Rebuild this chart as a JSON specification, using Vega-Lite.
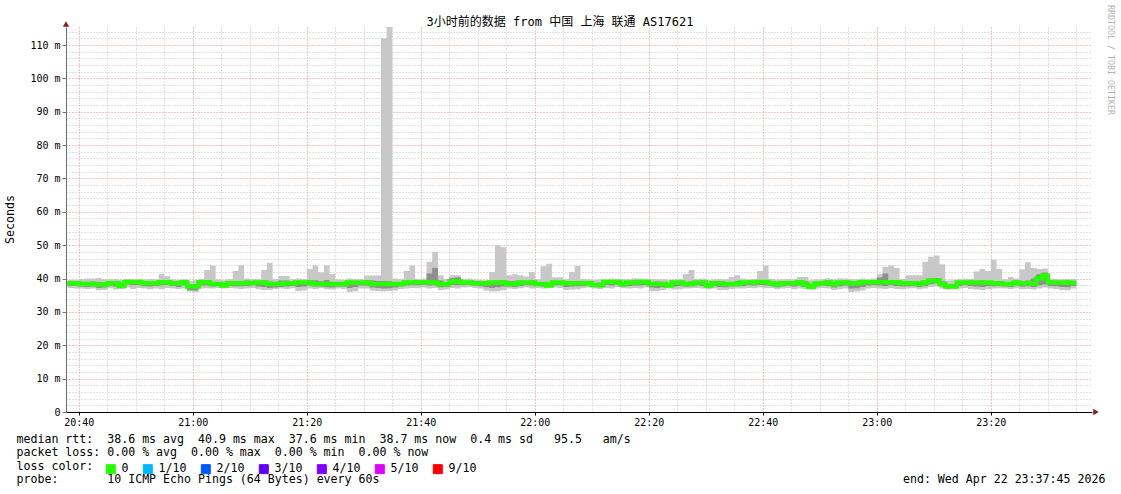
{
  "$schema": "https://vega.github.io/schema/vega-lite/v6.json",
  "width": 1026,
  "height": 385,
  "autosize": {"type": "none"},
  "padding": {"left": 66, "top": 27, "right": 29, "bottom": 82},
  "background": "white",
  "config": {"view": {"stroke": null}},
  "title": {
    "text": "3小时前的数据 from 中国 上海 联通 AS17621",
    "font": "DejaVu Sans Mono, Noto Sans CJK SC",
    "fontSize": 12,
    "fontWeight": "normal",
    "color": "black",
    "anchor": "middle",
    "frame": "group",
    "dx": -19,
    "dy": 24,
    "offset": 0
  },
  "data": {
    "format": {"parse": {"t": "utc:'%H:%M'"}},
    "values": [
      {"t":"20:38","lo":37.2,"q1":37.8,"med":38.6,"q3":39.1,"hi":39.6,"loss":"0"},
      {"t":"20:39","lo":37.0,"q1":37.8,"med":38.6,"q3":39.2,"hi":39.6,"loss":"0"},
      {"t":"20:40","lo":37.0,"q1":37.6,"med":38.4,"q3":39.0,"hi":39.9,"loss":"0"},
      {"t":"20:41","lo":36.9,"q1":37.5,"med":38.4,"q3":39.0,"hi":40.0,"loss":"0"},
      {"t":"20:42","lo":37.0,"q1":37.6,"med":38.4,"q3":39.1,"hi":40.0,"loss":"0"},
      {"t":"20:43","lo":36.5,"q1":37.2,"med":38.2,"q3":38.9,"hi":40.2,"loss":"0"},
      {"t":"20:44","lo":36.6,"q1":37.3,"med":38.2,"q3":38.8,"hi":39.8,"loss":"0"},
      {"t":"20:45","lo":37.1,"q1":37.8,"med":38.6,"q3":39.2,"hi":39.8,"loss":"0"},
      {"t":"20:46","lo":36.7,"q1":37.6,"med":38.6,"q3":39.3,"hi":39.9,"loss":"0"},
      {"t":"20:47","lo":36.9,"q1":37.3,"med":37.8,"q3":38.5,"hi":39.6,"loss":"0"},
      {"t":"20:48","lo":37.3,"q1":38.2,"med":39.0,"q3":39.5,"hi":39.9,"loss":"0"},
      {"t":"20:49","lo":36.9,"q1":38.0,"med":39.0,"q3":39.4,"hi":39.7,"loss":"0"},
      {"t":"20:50","lo":37.2,"q1":38.1,"med":39.0,"q3":39.4,"hi":39.8,"loss":"0"},
      {"t":"20:51","lo":37.0,"q1":37.7,"med":38.6,"q3":39.1,"hi":39.7,"loss":"0"},
      {"t":"20:52","lo":36.8,"q1":37.6,"med":38.6,"q3":39.2,"hi":39.9,"loss":"0"},
      {"t":"20:53","lo":37.0,"q1":37.8,"med":38.6,"q3":39.3,"hi":39.8,"loss":"0"},
      {"t":"20:54","lo":36.8,"q1":38.0,"med":38.9,"q3":39.6,"hi":41.4,"loss":"0"},
      {"t":"20:55","lo":37.2,"q1":38.1,"med":38.9,"q3":39.5,"hi":40.8,"loss":"0"},
      {"t":"20:56","lo":37.0,"q1":37.8,"med":38.6,"q3":39.1,"hi":39.8,"loss":"0"},
      {"t":"20:57","lo":36.9,"q1":37.5,"med":38.6,"q3":39.0,"hi":39.6,"loss":"0"},
      {"t":"20:58","lo":37.1,"q1":38.0,"med":38.9,"q3":39.3,"hi":39.8,"loss":"0"},
      {"t":"20:59","lo":36.1,"q1":36.5,"med":37.6,"q3":38.3,"hi":39.3,"loss":"0"},
      {"t":"21:00","lo":36.0,"q1":36.4,"med":37.6,"q3":38.4,"hi":39.5,"loss":"0"},
      {"t":"21:01","lo":37.0,"q1":37.9,"med":38.9,"q3":39.4,"hi":39.9,"loss":"0"},
      {"t":"21:02","lo":37.1,"q1":38.0,"med":38.9,"q3":39.5,"hi":42.6,"loss":"0"},
      {"t":"21:03","lo":37.0,"q1":37.6,"med":38.4,"q3":39.0,"hi":43.9,"loss":"0"},
      {"t":"21:04","lo":37.2,"q1":37.8,"med":38.4,"q3":38.9,"hi":39.7,"loss":"0"},
      {"t":"21:05","lo":37.0,"q1":37.4,"med":37.9,"q3":38.7,"hi":39.5,"loss":"0"},
      {"t":"21:06","lo":37.2,"q1":37.8,"med":38.6,"q3":39.1,"hi":39.8,"loss":"0"},
      {"t":"21:07","lo":37.0,"q1":37.7,"med":38.6,"q3":39.3,"hi":42.3,"loss":"0"},
      {"t":"21:08","lo":36.9,"q1":37.7,"med":38.6,"q3":39.2,"hi":44.0,"loss":"0"},
      {"t":"21:09","lo":37.0,"q1":37.8,"med":38.7,"q3":39.4,"hi":40.0,"loss":"0"},
      {"t":"21:10","lo":37.2,"q1":38.0,"med":38.7,"q3":39.2,"hi":39.9,"loss":"0"},
      {"t":"21:11","lo":36.8,"q1":37.6,"med":38.8,"q3":39.3,"hi":39.8,"loss":"0"},
      {"t":"21:12","lo":36.6,"q1":37.5,"med":38.8,"q3":39.4,"hi":42.6,"loss":"0"},
      {"t":"21:13","lo":36.6,"q1":37.2,"med":38.4,"q3":39.1,"hi":44.7,"loss":"0"},
      {"t":"21:14","lo":36.9,"q1":37.3,"med":38.4,"q3":39.0,"hi":39.9,"loss":"0"},
      {"t":"21:15","lo":37.0,"q1":37.5,"med":38.4,"q3":39.4,"hi":40.8,"loss":"0"},
      {"t":"21:16","lo":36.9,"q1":37.6,"med":38.6,"q3":39.4,"hi":40.8,"loss":"0"},
      {"t":"21:17","lo":37.1,"q1":37.8,"med":38.6,"q3":39.1,"hi":39.8,"loss":"0"},
      {"t":"21:18","lo":36.3,"q1":37.5,"med":38.8,"q3":39.3,"hi":40.0,"loss":"0"},
      {"t":"21:19","lo":36.4,"q1":37.6,"med":38.8,"q3":39.2,"hi":39.9,"loss":"0"},
      {"t":"21:20","lo":37.0,"q1":37.9,"med":38.8,"q3":39.6,"hi":42.9,"loss":"0"},
      {"t":"21:21","lo":36.9,"q1":37.6,"med":38.4,"q3":39.5,"hi":43.9,"loss":"0"},
      {"t":"21:22","lo":37.1,"q1":37.6,"med":38.4,"q3":39.2,"hi":41.9,"loss":"0"},
      {"t":"21:23","lo":36.8,"q1":37.4,"med":38.4,"q3":39.6,"hi":44.0,"loss":"0"},
      {"t":"21:24","lo":36.7,"q1":37.3,"med":38.4,"q3":39.0,"hi":41.4,"loss":"0"},
      {"t":"21:25","lo":37.0,"q1":37.6,"med":38.4,"q3":38.9,"hi":39.7,"loss":"0"},
      {"t":"21:26","lo":36.9,"q1":37.6,"med":38.4,"q3":39.0,"hi":39.6,"loss":"0"},
      {"t":"21:27","lo":36.0,"q1":37.2,"med":38.8,"q3":39.3,"hi":40.0,"loss":"0"},
      {"t":"21:28","lo":36.2,"q1":37.5,"med":38.8,"q3":39.2,"hi":39.9,"loss":"0"},
      {"t":"21:29","lo":37.0,"q1":37.9,"med":38.8,"q3":39.3,"hi":39.9,"loss":"0"},
      {"t":"21:30","lo":37.0,"q1":37.9,"med":38.8,"q3":39.5,"hi":40.9,"loss":"0"},
      {"t":"21:31","lo":36.4,"q1":37.3,"med":38.4,"q3":39.4,"hi":40.9,"loss":"0"},
      {"t":"21:32","lo":36.3,"q1":37.2,"med":38.4,"q3":39.3,"hi":40.9,"loss":"0"},
      {"t":"21:33","lo":36.2,"q1":37.0,"med":38.4,"q3":39.3,"hi":112.0,"loss":"0"},
      {"t":"21:34","lo":36.3,"q1":37.1,"med":38.4,"q3":39.2,"hi":115.4,"loss":"0"},
      {"t":"21:35","lo":36.4,"q1":37.3,"med":38.4,"q3":39.0,"hi":40.0,"loss":"0"},
      {"t":"21:36","lo":36.9,"q1":37.6,"med":38.4,"q3":39.0,"hi":39.8,"loss":"0"},
      {"t":"21:37","lo":37.0,"q1":37.9,"med":38.8,"q3":39.4,"hi":42.3,"loss":"0"},
      {"t":"21:38","lo":37.2,"q1":38.0,"med":38.8,"q3":39.3,"hi":43.9,"loss":"0"},
      {"t":"21:39","lo":37.1,"q1":38.0,"med":38.9,"q3":39.4,"hi":39.9,"loss":"0"},
      {"t":"21:40","lo":37.3,"q1":38.1,"med":38.9,"q3":39.5,"hi":40.0,"loss":"0"},
      {"t":"21:41","lo":37.0,"q1":37.9,"med":38.8,"q3":41.5,"hi":45.0,"loss":"0"},
      {"t":"21:42","lo":37.2,"q1":38.0,"med":38.8,"q3":43.2,"hi":48.0,"loss":"0"},
      {"t":"21:43","lo":36.6,"q1":37.4,"med":38.3,"q3":39.4,"hi":41.0,"loss":"0"},
      {"t":"21:44","lo":36.7,"q1":37.5,"med":38.3,"q3":39.0,"hi":39.9,"loss":"0"},
      {"t":"21:45","lo":37.2,"q1":38.1,"med":39.1,"q3":40.2,"hi":41.0,"loss":"0"},
      {"t":"21:46","lo":37.0,"q1":38.0,"med":39.1,"q3":40.4,"hi":41.0,"loss":"0"},
      {"t":"21:47","lo":37.3,"q1":38.0,"med":38.8,"q3":39.3,"hi":39.9,"loss":"0"},
      {"t":"21:48","lo":37.4,"q1":38.1,"med":38.8,"q3":39.3,"hi":40.0,"loss":"0"},
      {"t":"21:49","lo":37.2,"q1":37.9,"med":38.6,"q3":39.1,"hi":39.7,"loss":"0"},
      {"t":"21:50","lo":37.0,"q1":37.7,"med":38.6,"q3":39.0,"hi":39.6,"loss":"0"},
      {"t":"21:51","lo":36.4,"q1":37.4,"med":38.6,"q3":39.1,"hi":39.5,"loss":"0"},
      {"t":"21:52","lo":36.1,"q1":37.2,"med":38.8,"q3":39.3,"hi":42.0,"loss":"0"},
      {"t":"21:53","lo":36.2,"q1":37.4,"med":38.8,"q3":39.4,"hi":50.0,"loss":"0"},
      {"t":"21:54","lo":36.5,"q1":37.6,"med":38.8,"q3":39.4,"hi":49.4,"loss":"0"},
      {"t":"21:55","lo":37.0,"q1":37.6,"med":38.4,"q3":39.2,"hi":41.0,"loss":"0"},
      {"t":"21:56","lo":36.9,"q1":37.5,"med":38.4,"q3":39.3,"hi":41.3,"loss":"0"},
      {"t":"21:57","lo":37.1,"q1":37.8,"med":38.8,"q3":39.4,"hi":41.0,"loss":"0"},
      {"t":"21:58","lo":37.3,"q1":38.0,"med":38.8,"q3":39.3,"hi":40.6,"loss":"0"},
      {"t":"21:59","lo":37.0,"q1":37.9,"med":38.8,"q3":39.5,"hi":42.0,"loss":"0"},
      {"t":"22:00","lo":37.2,"q1":37.8,"med":38.4,"q3":39.0,"hi":39.8,"loss":"0"},
      {"t":"22:01","lo":37.0,"q1":37.6,"med":38.4,"q3":39.0,"hi":43.7,"loss":"0"},
      {"t":"22:02","lo":37.1,"q1":37.5,"med":37.9,"q3":38.8,"hi":44.4,"loss":"0"},
      {"t":"22:03","lo":37.3,"q1":38.0,"med":38.8,"q3":39.3,"hi":40.4,"loss":"0"},
      {"t":"22:04","lo":37.2,"q1":38.0,"med":38.8,"q3":39.2,"hi":40.4,"loss":"0"},
      {"t":"22:05","lo":36.6,"q1":37.5,"med":38.6,"q3":39.1,"hi":39.8,"loss":"0"},
      {"t":"22:06","lo":36.7,"q1":37.6,"med":38.6,"q3":39.3,"hi":42.0,"loss":"0"},
      {"t":"22:07","lo":36.8,"q1":37.7,"med":38.6,"q3":39.2,"hi":43.8,"loss":"0"},
      {"t":"22:08","lo":37.1,"q1":37.8,"med":38.6,"q3":39.1,"hi":39.9,"loss":"0"},
      {"t":"22:09","lo":37.3,"q1":38.0,"med":38.6,"q3":39.0,"hi":39.8,"loss":"0"},
      {"t":"22:10","lo":37.0,"q1":37.5,"med":38.1,"q3":38.7,"hi":39.6,"loss":"0"},
      {"t":"22:11","lo":36.9,"q1":37.4,"med":38.1,"q3":38.8,"hi":39.7,"loss":"0"},
      {"t":"22:12","lo":37.2,"q1":38.1,"med":39.0,"q3":39.5,"hi":39.9,"loss":"0"},
      {"t":"22:13","lo":37.0,"q1":37.9,"med":39.0,"q3":39.6,"hi":40.0,"loss":"0"},
      {"t":"22:14","lo":37.4,"q1":38.2,"med":39.0,"q3":39.5,"hi":39.9,"loss":"0"},
      {"t":"22:15","lo":37.1,"q1":37.6,"med":38.3,"q3":38.9,"hi":39.8,"loss":"0"},
      {"t":"22:16","lo":37.0,"q1":37.8,"med":38.8,"q3":39.3,"hi":39.9,"loss":"0"},
      {"t":"22:17","lo":37.2,"q1":37.9,"med":38.8,"q3":39.4,"hi":40.1,"loss":"0"},
      {"t":"22:18","lo":37.0,"q1":37.9,"med":39.0,"q3":39.5,"hi":40.0,"loss":"0"},
      {"t":"22:19","lo":37.3,"q1":38.1,"med":39.0,"q3":39.4,"hi":39.9,"loss":"0"},
      {"t":"22:20","lo":36.2,"q1":37.3,"med":38.4,"q3":39.0,"hi":39.9,"loss":"0"},
      {"t":"22:21","lo":36.3,"q1":37.2,"med":38.4,"q3":39.1,"hi":39.8,"loss":"0"},
      {"t":"22:22","lo":36.6,"q1":37.4,"med":38.4,"q3":39.0,"hi":39.9,"loss":"0"},
      {"t":"22:23","lo":37.0,"q1":37.4,"med":37.9,"q3":38.6,"hi":39.6,"loss":"0"},
      {"t":"22:24","lo":36.7,"q1":37.6,"med":38.8,"q3":39.3,"hi":39.8,"loss":"0"},
      {"t":"22:25","lo":36.8,"q1":37.8,"med":38.8,"q3":39.3,"hi":39.9,"loss":"0"},
      {"t":"22:26","lo":37.0,"q1":37.6,"med":38.4,"q3":39.0,"hi":41.4,"loss":"0"},
      {"t":"22:27","lo":37.1,"q1":37.7,"med":38.4,"q3":39.1,"hi":42.6,"loss":"0"},
      {"t":"22:28","lo":37.2,"q1":38.0,"med":38.8,"q3":39.3,"hi":39.9,"loss":"0"},
      {"t":"22:29","lo":37.0,"q1":37.8,"med":38.8,"q3":39.4,"hi":40.0,"loss":"0"},
      {"t":"22:30","lo":36.8,"q1":37.3,"med":37.9,"q3":38.6,"hi":39.6,"loss":"0"},
      {"t":"22:31","lo":37.0,"q1":37.7,"med":38.6,"q3":39.1,"hi":39.8,"loss":"0"},
      {"t":"22:32","lo":36.6,"q1":37.5,"med":38.6,"q3":39.1,"hi":39.9,"loss":"0"},
      {"t":"22:33","lo":36.6,"q1":37.4,"med":38.4,"q3":39.0,"hi":39.8,"loss":"0"},
      {"t":"22:34","lo":36.9,"q1":37.6,"med":38.4,"q3":39.0,"hi":40.5,"loss":"0"},
      {"t":"22:35","lo":37.0,"q1":37.7,"med":38.4,"q3":39.2,"hi":41.0,"loss":"0"},
      {"t":"22:36","lo":37.0,"q1":37.8,"med":38.8,"q3":39.3,"hi":40.0,"loss":"0"},
      {"t":"22:37","lo":37.2,"q1":38.0,"med":38.8,"q3":39.2,"hi":39.8,"loss":"0"},
      {"t":"22:38","lo":37.1,"q1":37.9,"med":38.8,"q3":39.3,"hi":39.9,"loss":"0"},
      {"t":"22:39","lo":37.3,"q1":38.1,"med":39.0,"q3":39.5,"hi":42.3,"loss":"0"},
      {"t":"22:40","lo":37.1,"q1":38.0,"med":39.0,"q3":39.6,"hi":43.9,"loss":"0"},
      {"t":"22:41","lo":37.2,"q1":37.8,"med":38.6,"q3":39.1,"hi":39.9,"loss":"0"},
      {"t":"22:42","lo":36.8,"q1":37.4,"med":38.2,"q3":38.9,"hi":39.7,"loss":"0"},
      {"t":"22:43","lo":37.0,"q1":37.7,"med":38.6,"q3":39.1,"hi":39.8,"loss":"0"},
      {"t":"22:44","lo":37.2,"q1":37.9,"med":38.6,"q3":39.1,"hi":39.9,"loss":"0"},
      {"t":"22:45","lo":36.8,"q1":37.6,"med":38.6,"q3":39.2,"hi":39.9,"loss":"0"},
      {"t":"22:46","lo":37.0,"q1":37.9,"med":38.9,"q3":39.5,"hi":40.5,"loss":"0"},
      {"t":"22:47","lo":36.9,"q1":37.5,"med":38.2,"q3":39.2,"hi":40.5,"loss":"0"},
      {"t":"22:48","lo":36.8,"q1":37.1,"med":37.5,"q3":38.3,"hi":39.5,"loss":"0"},
      {"t":"22:49","lo":37.0,"q1":37.7,"med":38.5,"q3":39.0,"hi":39.7,"loss":"0"},
      {"t":"22:50","lo":37.2,"q1":37.9,"med":38.5,"q3":39.1,"hi":39.9,"loss":"0"},
      {"t":"22:51","lo":37.0,"q1":37.8,"med":38.8,"q3":39.4,"hi":40.1,"loss":"0"},
      {"t":"22:52","lo":36.6,"q1":37.3,"med":38.3,"q3":39.0,"hi":39.8,"loss":"0"},
      {"t":"22:53","lo":36.8,"q1":37.7,"med":38.8,"q3":39.3,"hi":40.1,"loss":"0"},
      {"t":"22:54","lo":37.0,"q1":37.9,"med":38.8,"q3":39.4,"hi":40.0,"loss":"0"},
      {"t":"22:55","lo":36.0,"q1":37.0,"med":38.6,"q3":39.2,"hi":39.9,"loss":"0"},
      {"t":"22:56","lo":36.1,"q1":37.1,"med":38.6,"q3":39.1,"hi":39.8,"loss":"0"},
      {"t":"22:57","lo":36.4,"q1":37.5,"med":38.9,"q3":39.4,"hi":40.0,"loss":"0"},
      {"t":"22:58","lo":37.0,"q1":37.9,"med":38.9,"q3":39.4,"hi":39.9,"loss":"0"},
      {"t":"22:59","lo":37.2,"q1":38.0,"med":38.9,"q3":39.5,"hi":40.0,"loss":"0"},
      {"t":"23:00","lo":37.0,"q1":37.9,"med":38.9,"q3":40.3,"hi":41.4,"loss":"0"},
      {"t":"23:01","lo":36.9,"q1":37.8,"med":38.9,"q3":41.5,"hi":43.5,"loss":"0"},
      {"t":"23:02","lo":37.1,"q1":38.0,"med":38.9,"q3":39.6,"hi":43.9,"loss":"0"},
      {"t":"23:03","lo":36.9,"q1":37.8,"med":38.9,"q3":39.5,"hi":43.2,"loss":"0"},
      {"t":"23:04","lo":36.8,"q1":37.6,"med":38.6,"q3":39.2,"hi":39.9,"loss":"0"},
      {"t":"23:05","lo":37.0,"q1":37.7,"med":38.6,"q3":39.3,"hi":41.0,"loss":"0"},
      {"t":"23:06","lo":37.1,"q1":37.8,"med":38.6,"q3":39.2,"hi":41.0,"loss":"0"},
      {"t":"23:07","lo":36.8,"q1":37.5,"med":38.4,"q3":39.0,"hi":41.0,"loss":"0"},
      {"t":"23:08","lo":37.0,"q1":37.8,"med":38.8,"q3":39.4,"hi":45.0,"loss":"0"},
      {"t":"23:09","lo":37.5,"q1":38.4,"med":39.4,"q3":40.0,"hi":46.5,"loss":"0"},
      {"t":"23:10","lo":37.6,"q1":38.5,"med":39.4,"q3":40.2,"hi":46.9,"loss":"0"},
      {"t":"23:11","lo":37.0,"q1":37.6,"med":38.4,"q3":39.2,"hi":44.3,"loss":"0"},
      {"t":"23:12","lo":36.7,"q1":37.0,"med":37.6,"q3":38.3,"hi":39.4,"loss":"0"},
      {"t":"23:13","lo":36.8,"q1":37.1,"med":37.6,"q3":38.4,"hi":39.5,"loss":"0"},
      {"t":"23:14","lo":37.0,"q1":37.8,"med":38.8,"q3":39.3,"hi":39.9,"loss":"0"},
      {"t":"23:15","lo":37.2,"q1":38.0,"med":38.8,"q3":39.3,"hi":40.0,"loss":"0"},
      {"t":"23:16","lo":36.9,"q1":37.8,"med":38.8,"q3":39.4,"hi":39.9,"loss":"0"},
      {"t":"23:17","lo":36.7,"q1":37.6,"med":38.8,"q3":39.3,"hi":42.1,"loss":"0"},
      {"t":"23:18","lo":36.6,"q1":37.5,"med":38.8,"q3":39.4,"hi":42.9,"loss":"0"},
      {"t":"23:19","lo":36.9,"q1":37.7,"med":38.8,"q3":39.3,"hi":42.3,"loss":"0"},
      {"t":"23:20","lo":37.0,"q1":37.7,"med":38.6,"q3":39.2,"hi":45.6,"loss":"0"},
      {"t":"23:21","lo":37.1,"q1":37.8,"med":38.6,"q3":39.1,"hi":42.9,"loss":"0"},
      {"t":"23:22","lo":37.0,"q1":37.6,"med":38.4,"q3":39.0,"hi":39.8,"loss":"0"},
      {"t":"23:23","lo":36.9,"q1":37.5,"med":38.4,"q3":39.0,"hi":40.5,"loss":"0"},
      {"t":"23:24","lo":37.1,"q1":37.9,"med":38.8,"q3":39.4,"hi":40.0,"loss":"0"},
      {"t":"23:25","lo":36.8,"q1":37.6,"med":38.6,"q3":39.3,"hi":42.8,"loss":"0"},
      {"t":"23:26","lo":36.9,"q1":37.7,"med":38.6,"q3":39.4,"hi":44.9,"loss":"0"},
      {"t":"23:27","lo":36.7,"q1":37.5,"med":38.5,"q3":40.0,"hi":43.2,"loss":"0"},
      {"t":"23:28","lo":37.0,"q1":38.0,"med":40.1,"q3":41.3,"hi":42.9,"loss":"0"},
      {"t":"23:29","lo":37.3,"q1":38.2,"med":40.9,"q3":41.8,"hi":43.0,"loss":"0"},
      {"t":"23:30","lo":37.0,"q1":37.8,"med":38.8,"q3":39.4,"hi":40.0,"loss":"0"},
      {"t":"23:31","lo":36.9,"q1":37.7,"med":38.8,"q3":39.3,"hi":39.9,"loss":"0"},
      {"t":"23:32","lo":36.6,"q1":37.5,"med":38.8,"q3":39.3,"hi":39.8,"loss":"0"},
      {"t":"23:33","lo":36.5,"q1":37.4,"med":38.8,"q3":39.4,"hi":39.9,"loss":"0"},
      {"t":"23:34","lo":37.0,"q1":37.8,"med":38.7,"q3":39.3,"hi":39.9,"loss":"0"},
      {"t":"23:35","lo":37.0,"q1":37.8,"med":38.7,"q3":39.3,"hi":39.9,"loss":"0"}
    ]
  },
  "encoding": {
    "x": {
      "field": "t", "type": "temporal",
      "scale": {"type": "utc", "domain": [{"year": 1900, "month": 1, "date": 1, "hours": 20, "minutes": 37, "seconds": 45, "utc": true}, {"year": 1900, "month": 1, "date": 1, "hours": 23, "minutes": 37, "seconds": 45, "utc": true}]},
      "axis": {
        "tickCount": 36,
        "labelExpr": "utcminutes(datum.value) % 20 === 0 ? utcFormat(datum.value, '%H:%M') : ''",
        "labelOverlap": false, "labelFlush": false,
        "grid": true, "gridDash": [1, 2], "gridWidth": 1,
        "gridColor": {"condition": {"test": "utcminutes(datum.value) % 20 === 0", "value": "#f08a8a"}, "value": "#c4c4c4"},
        "ticks": true, "tickSize": 3, "tickColor": "black",
        "tickOpacity": {"condition": {"test": "utcminutes(datum.value) % 20 === 0", "value": 1}, "value": 0},
        "domain": true, "domainColor": "black", "domainWidth": 1,
        "labelFont": "DejaVu Sans Mono", "labelFontSize": 10, "labelColor": "black", "labelPadding": 2,
        "title": ["median rtt:\u00a0\u00a038.6 ms avg\u00a0\u00a040.9 ms max\u00a0\u00a037.6 ms min\u00a0\u00a038.7 ms now\u00a0\u00a00.4 ms sd\u00a0\u00a0\u00a095.5\u00a0\u00a0\u00a0am/s", "packet loss: 0.00 % avg\u00a0\u00a00.00 % max\u00a0\u00a00.00 % min\u00a0\u00a00.00 % now", "loss color:", "probe:\u00a0\u00a0\u00a0\u00a0\u00a0\u00a0\u00a010 ICMP Echo Pings (64 Bytes) every 60s\u00a0\u00a0\u00a0\u00a0\u00a0\u00a0\u00a0\u00a0\u00a0\u00a0\u00a0\u00a0\u00a0\u00a0\u00a0\u00a0\u00a0\u00a0\u00a0\u00a0\u00a0\u00a0\u00a0\u00a0\u00a0\u00a0\u00a0\u00a0\u00a0\u00a0\u00a0\u00a0\u00a0\u00a0\u00a0\u00a0\u00a0\u00a0\u00a0\u00a0\u00a0\u00a0\u00a0\u00a0\u00a0\u00a0\u00a0\u00a0\u00a0\u00a0\u00a0\u00a0\u00a0\u00a0\u00a0\u00a0\u00a0\u00a0\u00a0\u00a0\u00a0\u00a0\u00a0\u00a0\u00a0\u00a0\u00a0\u00a0\u00a0\u00a0\u00a0\u00a0\u00a0\u00a0\u00a0end: Wed Apr 22 23:37:45 2026"],
        "titleX": -50, "titleY": 21, "titleAlign": "left", "titleBaseline": "top",
        "titleFont": "DejaVu Sans Mono", "titleFontSize": 11.6, "titleFontWeight": "normal", "titleColor": "black"
      }
    }
  },
  "layer": [
    {
      "mark": {"type": "area", "interpolate": "step-after", "color": "#c8c8c8"},
      "encoding": {
        "y": {
          "field": "lo", "type": "quantitative",
          "scale": {"domain": [0, 115.4], "nice": false},
          "axis": {
            "values": [0,2,4,6,8,10,12,14,16,18,20,22,24,26,28,30,32,34,36,38,40,42,44,46,48,50,52,54,56,58,60,62,64,66,68,70,72,74,76,78,80,82,84,86,88,90,92,94,96,98,100,102,104,106,108,110,112,114],
            "labelExpr": "datum.value % 10 !== 0 ? '' : (datum.value === 0 ? '0' : datum.value + ' m')",
            "labelOverlap": false, "labelFlush": false,
            "grid": true, "gridDash": [1, 2], "gridWidth": 1,
            "gridColor": {"condition": {"test": "datum.value % 10 === 0", "value": "#f08a8a"}, "value": "#c4c4c4"},
            "ticks": true, "tickSize": 4, "tickColor": "#b06060",
            "tickOpacity": {"condition": {"test": "datum.value % 10 === 0", "value": 1}, "value": 0},
            "domain": true, "domainColor": "#6e6e6e", "domainWidth": 1,
            "labelFont": "DejaVu Sans Mono", "labelFontSize": 10, "labelColor": "black", "labelPadding": 2,
            "title": "Seconds", "titleX": -56, "titleY": 192, "titleAngle": -90, "titleAlign": "center", "titleBaseline": "middle",
            "titleFont": "DejaVu Sans Mono", "titleFontSize": 11.6, "titleFontWeight": "normal", "titleColor": "black"
          }
        },
        "y2": {"field": "hi"}
      }
    },
    {
      "mark": {"type": "area", "interpolate": "step-after", "color": "#8e8e8e"},
      "encoding": {
        "y": {
          "field": "q1", "type": "quantitative",
          "scale": {"domain": [0, 115.4], "nice": false},
          "axis": {
            "values": [0,2,4,6,8,10,12,14,16,18,20,22,24,26,28,30,32,34,36,38,40,42,44,46,48,50,52,54,56,58,60,62,64,66,68,70,72,74,76,78,80,82,84,86,88,90,92,94,96,98,100,102,104,106,108,110,112,114],
            "labelExpr": "datum.value % 10 !== 0 ? '' : (datum.value === 0 ? '0' : datum.value + ' m')",
            "labelOverlap": false, "labelFlush": false,
            "grid": true, "gridDash": [1, 2], "gridWidth": 1,
            "gridColor": {"condition": {"test": "datum.value % 10 === 0", "value": "#f08a8a"}, "value": "#c4c4c4"},
            "ticks": true, "tickSize": 4, "tickColor": "#b06060",
            "tickOpacity": {"condition": {"test": "datum.value % 10 === 0", "value": 1}, "value": 0},
            "domain": true, "domainColor": "#6e6e6e", "domainWidth": 1,
            "labelFont": "DejaVu Sans Mono", "labelFontSize": 10, "labelColor": "black", "labelPadding": 2,
            "title": "Seconds", "titleX": -56, "titleY": 192, "titleAngle": -90, "titleAlign": "center", "titleBaseline": "middle",
            "titleFont": "DejaVu Sans Mono", "titleFontSize": 11.6, "titleFontWeight": "normal", "titleColor": "black"
          }
        },
        "y2": {"field": "q3"}
      }
    },
    {
      "mark": {"type": "line", "interpolate": "step-after", "strokeWidth": 4.5},
      "encoding": {
        "y": {
          "field": "med", "type": "quantitative",
          "scale": {"domain": [0, 115.4], "nice": false},
          "axis": {
            "values": [0,2,4,6,8,10,12,14,16,18,20,22,24,26,28,30,32,34,36,38,40,42,44,46,48,50,52,54,56,58,60,62,64,66,68,70,72,74,76,78,80,82,84,86,88,90,92,94,96,98,100,102,104,106,108,110,112,114],
            "labelExpr": "datum.value % 10 !== 0 ? '' : (datum.value === 0 ? '0' : datum.value + ' m')",
            "labelOverlap": false, "labelFlush": false,
            "grid": true, "gridDash": [1, 2], "gridWidth": 1,
            "gridColor": {"condition": {"test": "datum.value % 10 === 0", "value": "#f08a8a"}, "value": "#c4c4c4"},
            "ticks": true, "tickSize": 4, "tickColor": "#b06060",
            "tickOpacity": {"condition": {"test": "datum.value % 10 === 0", "value": 1}, "value": 0},
            "domain": true, "domainColor": "#6e6e6e", "domainWidth": 1,
            "labelFont": "DejaVu Sans Mono", "labelFontSize": 10, "labelColor": "black", "labelPadding": 2,
            "title": "Seconds", "titleX": -56, "titleY": 192, "titleAngle": -90, "titleAlign": "center", "titleBaseline": "middle",
            "titleFont": "DejaVu Sans Mono", "titleFontSize": 11.6, "titleFontWeight": "normal", "titleColor": "black"
          }
        },
        "color": {
          "field": "loss", "type": "nominal",
          "scale": {"domain": ["0", "1/10", "2/10", "3/10", "4/10", "5/10", "9/10"], "range": ["#26ff00", "#00b8ff", "#0059ff", "#5e00ff", "#7e00ff", "#dd00ff", "#ff0000"]},
          "legend": {
            "orient": "none", "legendX": 39, "legendY": 436, "direction": "horizontal", "padding": 0,
            "title": null,
            "labelFont": "DejaVu Sans Mono", "labelFontSize": 11.6, "labelColor": "black", "labelOffset": 5,
            "columnPadding": 12, "symbolType": "square", "symbolSize": 81, "symbolStrokeWidth": 1,
            "encode": {"symbols": {"update": {"fill": {"scale": "color", "field": "value"}, "stroke": {"value": "black"}, "strokeWidth": {"value": 1}, "opacity": {"value": 1}}}}
          }
        }
      }
    },
    {
      "data": {
        "format": {"parse": {"t": "utc:'%H:%M:%S'"}},
        "values": [{"t": "23:40:55", "v": 122.0, "label": "RRDTOOL / TOBI OETIKER"}]
      },
      "mark": {"type": "text", "angle": 90, "align": "left", "baseline": "middle", "font": "DejaVu Sans Mono", "fontSize": 8.3, "color": "#b4b4b4"},
      "encoding": {
        "y": {
          "field": "v", "type": "quantitative",
          "scale": {"domain": [0, 115.4], "nice": false},
          "axis": {
            "values": [0,2,4,6,8,10,12,14,16,18,20,22,24,26,28,30,32,34,36,38,40,42,44,46,48,50,52,54,56,58,60,62,64,66,68,70,72,74,76,78,80,82,84,86,88,90,92,94,96,98,100,102,104,106,108,110,112,114],
            "labelExpr": "datum.value % 10 !== 0 ? '' : (datum.value === 0 ? '0' : datum.value + ' m')",
            "labelOverlap": false, "labelFlush": false,
            "grid": true, "gridDash": [1, 2], "gridWidth": 1,
            "gridColor": {"condition": {"test": "datum.value % 10 === 0", "value": "#f08a8a"}, "value": "#c4c4c4"},
            "ticks": true, "tickSize": 4, "tickColor": "#b06060",
            "tickOpacity": {"condition": {"test": "datum.value % 10 === 0", "value": 1}, "value": 0},
            "domain": true, "domainColor": "#6e6e6e", "domainWidth": 1,
            "labelFont": "DejaVu Sans Mono", "labelFontSize": 10, "labelColor": "black", "labelPadding": 2,
            "title": "Seconds", "titleX": -56, "titleY": 192, "titleAngle": -90, "titleAlign": "center", "titleBaseline": "middle",
            "titleFont": "DejaVu Sans Mono", "titleFontSize": 11.6, "titleFontWeight": "normal", "titleColor": "black"
          }
        },
        "text": {"field": "label"}
      }
    },
    {
      "data": {
        "format": {"parse": {"t": "utc:'%H:%M:%S'"}},
        "values": [{"t": "20:37:45", "v": 116.3}]
      },
      "mark": {"type": "point", "shape": "triangle-up", "filled": true, "color": "#8b1c1c", "size": 40, "opacity": 1},
      "encoding": {
        "y": {
          "field": "v", "type": "quantitative",
          "scale": {"domain": [0, 115.4], "nice": false},
          "axis": {
            "values": [0,2,4,6,8,10,12,14,16,18,20,22,24,26,28,30,32,34,36,38,40,42,44,46,48,50,52,54,56,58,60,62,64,66,68,70,72,74,76,78,80,82,84,86,88,90,92,94,96,98,100,102,104,106,108,110,112,114],
            "labelExpr": "datum.value % 10 !== 0 ? '' : (datum.value === 0 ? '0' : datum.value + ' m')",
            "labelOverlap": false, "labelFlush": false,
            "grid": true, "gridDash": [1, 2], "gridWidth": 1,
            "gridColor": {"condition": {"test": "datum.value % 10 === 0", "value": "#f08a8a"}, "value": "#c4c4c4"},
            "ticks": true, "tickSize": 4, "tickColor": "#b06060",
            "tickOpacity": {"condition": {"test": "datum.value % 10 === 0", "value": 1}, "value": 0},
            "domain": true, "domainColor": "#6e6e6e", "domainWidth": 1,
            "labelFont": "DejaVu Sans Mono", "labelFontSize": 10, "labelColor": "black", "labelPadding": 2,
            "title": "Seconds", "titleX": -56, "titleY": 192, "titleAngle": -90, "titleAlign": "center", "titleBaseline": "middle",
            "titleFont": "DejaVu Sans Mono", "titleFontSize": 11.6, "titleFontWeight": "normal", "titleColor": "black"
          }
        }
      }
    },
    {
      "data": {
        "format": {"parse": {"t": "utc:'%H:%M:%S'"}},
        "values": [{"t": "23:38:27", "v": 0}]
      },
      "mark": {"type": "point", "shape": "triangle-right", "filled": true, "color": "#8b1c1c", "size": 40, "opacity": 1},
      "encoding": {
        "y": {
          "field": "v", "type": "quantitative",
          "scale": {"domain": [0, 115.4], "nice": false},
          "axis": {
            "values": [0,2,4,6,8,10,12,14,16,18,20,22,24,26,28,30,32,34,36,38,40,42,44,46,48,50,52,54,56,58,60,62,64,66,68,70,72,74,76,78,80,82,84,86,88,90,92,94,96,98,100,102,104,106,108,110,112,114],
            "labelExpr": "datum.value % 10 !== 0 ? '' : (datum.value === 0 ? '0' : datum.value + ' m')",
            "labelOverlap": false, "labelFlush": false,
            "grid": true, "gridDash": [1, 2], "gridWidth": 1,
            "gridColor": {"condition": {"test": "datum.value % 10 === 0", "value": "#f08a8a"}, "value": "#c4c4c4"},
            "ticks": true, "tickSize": 4, "tickColor": "#b06060",
            "tickOpacity": {"condition": {"test": "datum.value % 10 === 0", "value": 1}, "value": 0},
            "domain": true, "domainColor": "#6e6e6e", "domainWidth": 1,
            "labelFont": "DejaVu Sans Mono", "labelFontSize": 10, "labelColor": "black", "labelPadding": 2,
            "title": "Seconds", "titleX": -56, "titleY": 192, "titleAngle": -90, "titleAlign": "center", "titleBaseline": "middle",
            "titleFont": "DejaVu Sans Mono", "titleFontSize": 11.6, "titleFontWeight": "normal", "titleColor": "black"
          }
        }
      }
    }
  ]
}
